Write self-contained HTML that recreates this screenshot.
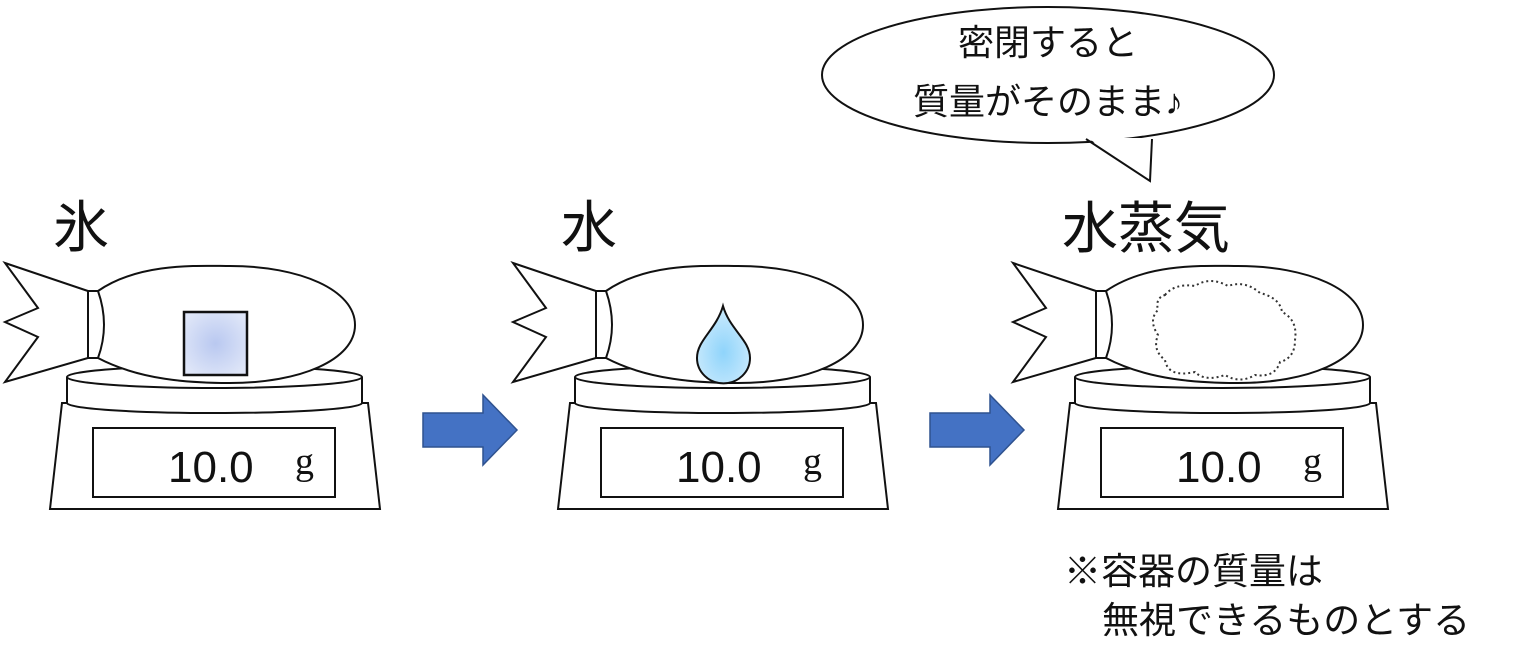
<!DOCTYPE html>
<html><head><meta charset="utf-8"><style>
html,body{margin:0;padding:0;background:#fff;}
svg{display:block;}
text{font-family:"Liberation Sans","Noto Sans CJK JP",sans-serif;fill:#111;}
</style></head><body>
<svg width="1536" height="661" viewBox="0 0 1536 661" xmlns="http://www.w3.org/2000/svg">
<defs>
<radialGradient id="ice" cx="50%" cy="50%" r="60%"><stop offset="0" stop-color="#b9c8f0"/><stop offset="1" stop-color="#dfe6f8"/></radialGradient>
<radialGradient id="drop" cx="50%" cy="60%" r="60%"><stop offset="0" stop-color="#8fd4fb"/><stop offset="1" stop-color="#cdebfc"/></radialGradient>
<g id="unit" fill="#fff" stroke="#111" stroke-width="2">
  <path d="M50,509 L62,403 L368,403 L380,509 Z"/>
  <rect x="93" y="428" width="242" height="69"/>
  <path d="M67,377 L67,403 A147,10 0 0 0 362,403 L362,377"/>
  <ellipse cx="214.5" cy="377" rx="147.5" ry="11"/>
  <path d="M5,263 L88,291 L88,358 L5,382 L38,337 L5,322 L38,308 Z"/>
  <path d="M98,291 C140,262 200,266 230,266 C300,266 355,290 355,325 C355,360 300,383 230,383 C190,383 140,380 98,358 Z"/>
  <path d="M88,291 L98,291 Q110,325 98,358 L88,358 Z"/>
  <text x="168" y="482" font-size="44" stroke="none" style="font-family:'Liberation Sans',sans-serif">10.0</text>
  <text x="295" y="474" font-size="38" stroke="none" style="font-family:'Liberation Serif',serif">g</text>
</g>
</defs>
<use href="#unit"/>
<rect x="184" y="312" width="63" height="63" fill="url(#ice)" stroke="#111" stroke-width="2.5"/>
<use href="#unit" x="508"/>
<path d="M723,306 C730,330 750,340 750,358 A23,22 0 0 1 697,358 C697,340 716,330 723,306 Z" fill="url(#drop)" stroke="#111" stroke-width="2"/>
<use href="#unit" x="1008"/>
<path d="M1165,295 Q1175,283 1195,286 Q1210,276 1228,286 Q1245,280 1260,293 Q1280,298 1282,312 Q1298,320 1295,340 Q1295,358 1280,362 Q1275,378 1255,375 Q1240,384 1225,375 Q1205,382 1195,372 Q1168,378 1165,360 Q1152,350 1158,335 Q1148,320 1158,310 Q1155,298 1165,295 Z" fill="none" stroke="#333" stroke-width="2" stroke-dasharray="2,3"/>
<text x="53" y="247" font-size="56">氷</text>
<text x="561" y="247" font-size="56">水</text>
<text x="1062" y="248" font-size="56">水蒸気</text>
<path d="M423,413 L483,413 L483,395 L517,430 L483,465 L483,447 L423,447 Z" fill="#4472c4" stroke="#2f528f" stroke-width="1.5"/>
<path d="M930,413 L990,413 L990,395 L1024,430 L990,465 L990,447 L930,447 Z" fill="#4472c4" stroke="#2f528f" stroke-width="1.5"/>
<ellipse cx="1048" cy="75" rx="226" ry="68" fill="#fff" stroke="#111" stroke-width="2"/>
<path d="M1088,138 L1150,181 L1152,138 Z" fill="#fff" stroke="none"/>
<path d="M1086,139 L1150,181 L1152,139" fill="none" stroke="#111" stroke-width="2"/>
<text x="1048" y="55" font-size="36" text-anchor="middle">密閉すると</text>
<text x="1048" y="114" font-size="36" text-anchor="middle">質量がそのまま♪</text>
<text x="1064" y="584" font-size="37">※容器の質量は</text>
<text x="1102" y="633" font-size="37">無視できるものとする</text>
</svg>
</body></html>
